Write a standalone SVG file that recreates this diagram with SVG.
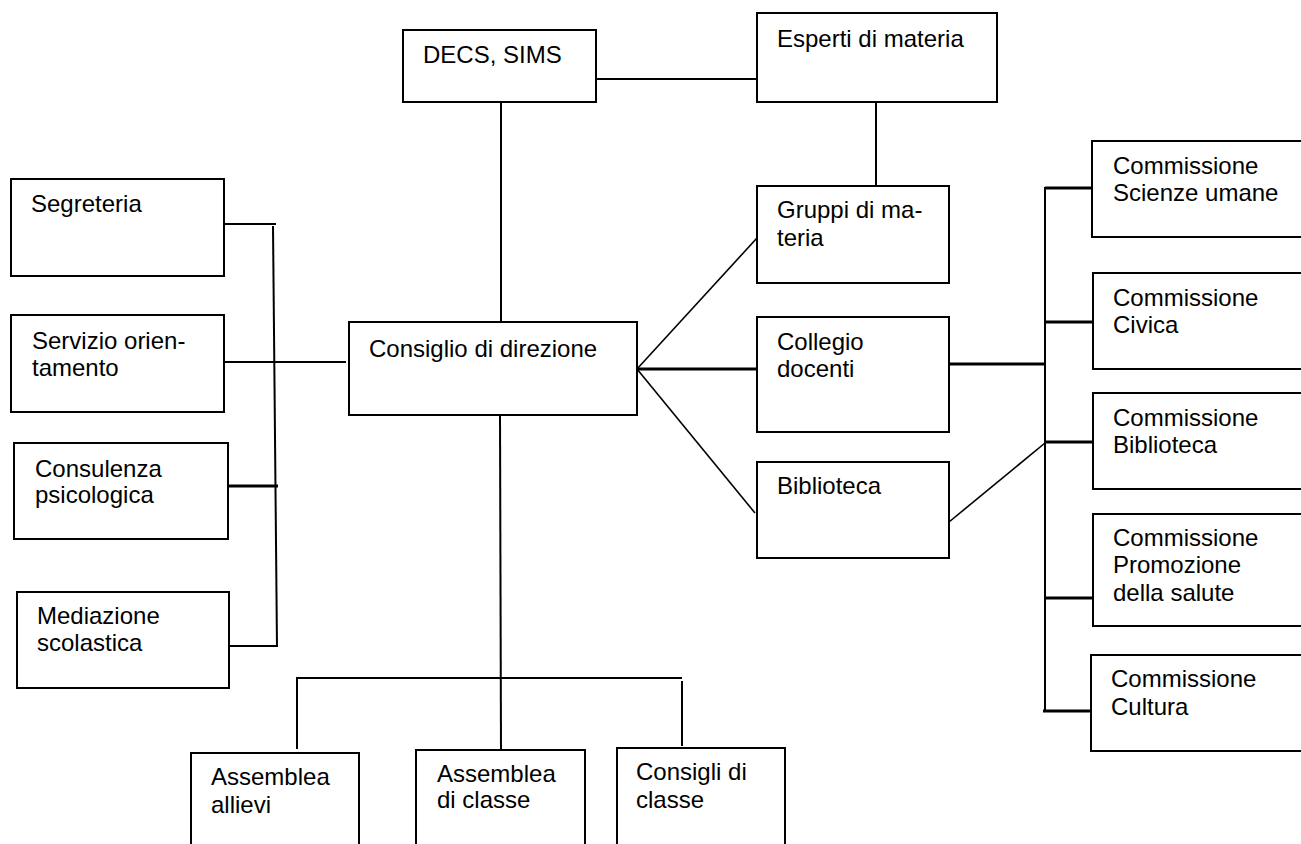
<svg xmlns="http://www.w3.org/2000/svg" width="1301" height="844" viewBox="0 0 1301 844">
<style>
  .box { fill: #ffffff; stroke: #000; stroke-width: 2; }
  .lbl { font-family: "Liberation Sans", Arial, sans-serif; font-size: 24px; fill: #000; }
  .ln { stroke: #000; stroke-width: 2; fill: none; }
  .thick { stroke: #000; stroke-width: 3; fill: none; }
  .diag { stroke: #000; stroke-width: 1.6; fill: none; }
</style>
<rect width="1301" height="844" fill="#ffffff"/>
<g id="connectors">
  <line class="ln" x1="596" y1="79" x2="757" y2="79"/>
  <line class="ln" x1="501" y1="102" x2="501" y2="322"/>
  <line class="ln" x1="876" y1="102" x2="876" y2="189"/>
  <line class="ln" x1="224" y1="224" x2="276" y2="224"/>
  <line class="ln" x1="273" y1="226" x2="277" y2="647"/>
  <line class="ln" x1="224" y1="362" x2="346" y2="362"/>
  <line class="thick" x1="228" y1="486" x2="278" y2="486"/>
  <line class="ln" x1="229" y1="646" x2="278" y2="646"/>
  <line class="ln" x1="500" y1="415" x2="501" y2="751"/>
  <line class="ln" x1="297" y1="678" x2="682" y2="678"/>
  <line class="ln" x1="297" y1="677" x2="297" y2="749"/>
  <line class="ln" x1="682" y1="681" x2="682" y2="746"/>
  <line class="diag" x1="637" y1="369" x2="757" y2="238"/>
  <line class="thick" x1="637" y1="369" x2="757" y2="369"/>
  <line class="diag" x1="637" y1="369" x2="755" y2="513"/>
  <line class="thick" x1="949" y1="364" x2="1045" y2="364"/>
  <line class="diag" x1="949" y1="522" x2="1045" y2="443"/>
  <line class="ln" x1="1045" y1="187" x2="1045" y2="712"/>
  <line class="thick" x1="1045" y1="188" x2="1092" y2="188"/>
  <line class="thick" x1="1045" y1="322" x2="1093" y2="322"/>
  <line class="thick" x1="1045" y1="442" x2="1093" y2="442"/>
  <line class="thick" x1="1045" y1="598" x2="1093" y2="598"/>
  <line class="thick" x1="1043" y1="711" x2="1091" y2="711"/>
</g>
<g id="decs">
  <rect class="box" x="403" y="30" width="193" height="72"/>
  <text class="lbl" x="423" y="63">DECS, SIMS</text>
</g>
<g id="esperti">
  <rect class="box" x="757" y="13" width="240" height="89"/>
  <text class="lbl" x="777" y="47">Esperti di materia</text>
</g>
<g id="segreteria">
  <rect class="box" x="11" y="179" width="213" height="97"/>
  <text class="lbl" x="31" y="212">Segreteria</text>
</g>
<g id="servizio">
  <rect class="box" x="11" y="315" width="213" height="97"/>
  <text class="lbl" x="32" y="349">Servizio orien-</text>
  <text class="lbl" x="32" y="376">tamento</text>
</g>
<g id="consulenza">
  <rect class="box" x="14" y="443" width="214" height="96"/>
  <text class="lbl" x="35" y="477">Consulenza</text>
  <text class="lbl" x="35" y="503">psicologica</text>
</g>
<g id="mediazione">
  <rect class="box" x="17" y="592" width="212" height="96"/>
  <text class="lbl" x="37" y="624">Mediazione</text>
  <text class="lbl" x="37" y="651">scolastica</text>
</g>
<g id="consiglio">
  <rect class="box" x="349" y="322" width="288" height="93"/>
  <text class="lbl" x="369" y="357">Consiglio di direzione</text>
</g>
<g id="gruppi">
  <rect class="box" x="757" y="186" width="192" height="97"/>
  <text class="lbl" x="777" y="218">Gruppi di ma-</text>
  <text class="lbl" x="777" y="246">teria</text>
</g>
<g id="collegio">
  <rect class="box" x="757" y="317" width="192" height="115"/>
  <text class="lbl" x="777" y="350">Collegio</text>
  <text class="lbl" x="777" y="377">docenti</text>
</g>
<g id="biblioteca">
  <rect class="box" x="757" y="462" width="192" height="96"/>
  <text class="lbl" x="777" y="494">Biblioteca</text>
</g>
<g id="comm-scienze">
  <rect class="box" x="1092" y="141" width="220" height="96"/>
  <text class="lbl" x="1113" y="174">Commissione</text>
  <text class="lbl" x="1113" y="201">Scienze umane</text>
</g>
<g id="comm-civica">
  <rect class="box" x="1093" y="273" width="220" height="96"/>
  <text class="lbl" x="1113" y="306">Commissione</text>
  <text class="lbl" x="1113" y="333">Civica</text>
</g>
<g id="comm-biblioteca">
  <rect class="box" x="1093" y="393" width="220" height="96"/>
  <text class="lbl" x="1113" y="426">Commissione</text>
  <text class="lbl" x="1113" y="453">Biblioteca</text>
</g>
<g id="comm-promozione">
  <rect class="box" x="1093" y="514" width="220" height="112"/>
  <text class="lbl" x="1113" y="546">Commissione</text>
  <text class="lbl" x="1113" y="573">Promozione</text>
  <text class="lbl" x="1113" y="601">della salute</text>
</g>
<g id="comm-cultura">
  <rect class="box" x="1091" y="655" width="222" height="96"/>
  <text class="lbl" x="1111" y="687">Commissione</text>
  <text class="lbl" x="1111" y="715">Cultura</text>
</g>
<g id="assemblea-allievi">
  <rect class="box" x="191" y="753" width="168" height="110"/>
  <text class="lbl" x="211" y="785">Assemblea</text>
  <text class="lbl" x="211" y="813">allievi</text>
</g>
<g id="assemblea-classe">
  <rect class="box" x="416" y="750" width="169" height="110"/>
  <text class="lbl" x="437" y="782">Assemblea</text>
  <text class="lbl" x="437" y="808">di classe</text>
</g>
<g id="consigli-classe">
  <rect class="box" x="617" y="748" width="168" height="110"/>
  <text class="lbl" x="636" y="780">Consigli di</text>
  <text class="lbl" x="636" y="808">classe</text>
</g>
</svg>
